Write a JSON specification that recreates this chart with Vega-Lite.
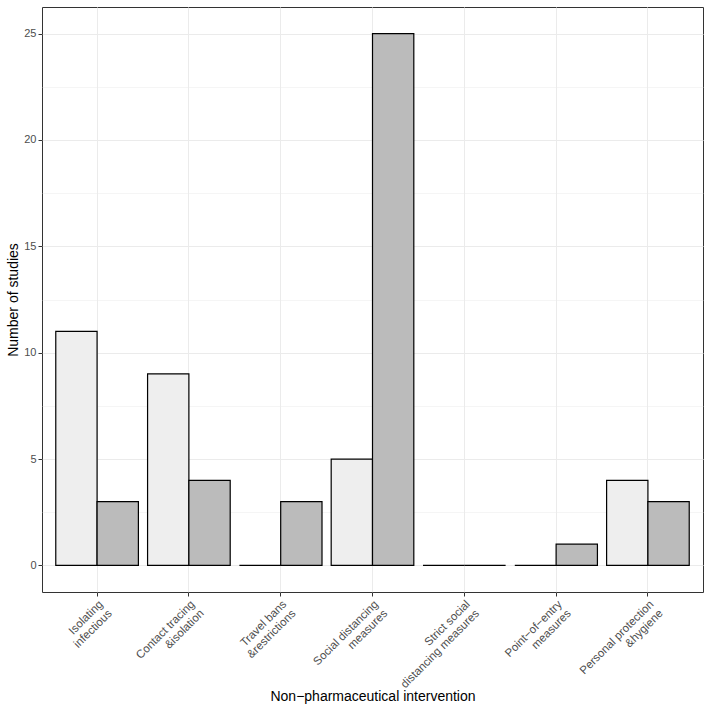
{
  "$schema": "https://vega.github.io/schema/vega-lite/v6.json",
  "autosize": "none",
  "width": 661,
  "height": 585,
  "padding": {"left": 42, "top": 7, "right": 6, "bottom": 117},
  "background": "white",
  "config": {
    "view": {"stroke": "#333333", "strokeWidth": 1},
    "font": "Liberation Sans"
  },
  "data": {
    "values": [
      {"intervention": "Isolating\ninfectious", "group": "A", "studies": 11},
      {"intervention": "Isolating\ninfectious", "group": "B", "studies": 3},
      {"intervention": "Contact tracing\n&isolation", "group": "A", "studies": 9},
      {"intervention": "Contact tracing\n&isolation", "group": "B", "studies": 4},
      {"intervention": "Travel bans\n&restrictions", "group": "A", "studies": 0},
      {"intervention": "Travel bans\n&restrictions", "group": "B", "studies": 3},
      {"intervention": "Social distancing\nmeasures", "group": "A", "studies": 5},
      {"intervention": "Social distancing\nmeasures", "group": "B", "studies": 25},
      {"intervention": "Strict social\ndistancing measures", "group": "A", "studies": 0},
      {"intervention": "Strict social\ndistancing measures", "group": "B", "studies": 0},
      {"intervention": "Point−of−entry\nmeasures", "group": "A", "studies": 0},
      {"intervention": "Point−of−entry\nmeasures", "group": "B", "studies": 1},
      {"intervention": "Personal protection\n&hygiene", "group": "A", "studies": 4},
      {"intervention": "Personal protection\n&hygiene", "group": "B", "studies": 3}
    ]
  },
  "mark": {"type": "bar", "stroke": "black", "strokeWidth": 1.2},
  "encoding": {
    "x": {
      "field": "intervention",
      "type": "nominal",
      "sort": null,
      "scale": {"paddingInner": 0.1, "paddingOuter": 0.15},
      "axis": {
        "title": "Non−pharmaceutical intervention",
        "titleFont": "Liberation Sans",
        "titleFontSize": 14,
        "titleFontWeight": "normal",
        "titleColor": "black",
        "labelAngle": -45,
        "labelAlign": "right",
        "labelBaseline": "top",
        "labelFontSize": 11.5,
        "labelLineHeight": 13,
        "labelColor": "#4D4D4D",
        "labelExpr": "split(datum.label, '\\n')",
        "labelPadding": 2,
        "bandPosition": 0.5,
        "grid": true,
        "gridColor": "#EBEBEB",
        "gridWidth": 1,
        "domain": false,
        "ticks": true,
        "tickColor": "#333333",
        "tickSize": 4,
        "titlePadding": 0
      }
    },
    "xOffset": {
      "field": "group",
      "type": "nominal",
      "scale": {"paddingInner": 0, "paddingOuter": 0}
    },
    "y": {
      "field": "studies",
      "type": "quantitative",
      "scale": {"domain": [-1.25, 26.25], "nice": false, "zero": false},
      "axis": {
        "title": "Number of studies",
        "titleFont": "Liberation Sans",
        "titleFontSize": 14,
        "titleFontWeight": "normal",
        "titleColor": "black",
        "values": [0, 2.5, 5, 7.5, 10, 12.5, 15, 17.5, 20, 22.5, 25],
        "labelExpr": "datum.value % 5 === 0 ? datum.label : ''",
        "labelFontSize": 11,
        "labelColor": "#4D4D4D",
        "labelPadding": 2,
        "grid": true,
        "gridColor": "#EBEBEB",
        "gridWidth": {"condition": {"test": "datum.value % 5 !== 0", "value": 0.5}, "value": 1},
        "domain": false,
        "tickColor": "#333333",
        "tickOpacity": {"condition": {"test": "datum.value % 5 !== 0", "value": 0}, "value": 1},
        "tickSize": 4,
        "titlePadding": 3
      }
    },
    "fill": {
      "field": "group",
      "type": "nominal",
      "scale": {"domain": ["A", "B"], "range": ["#EEEEEE", "#BBBBBB"]},
      "legend": null
    }
  }
}
